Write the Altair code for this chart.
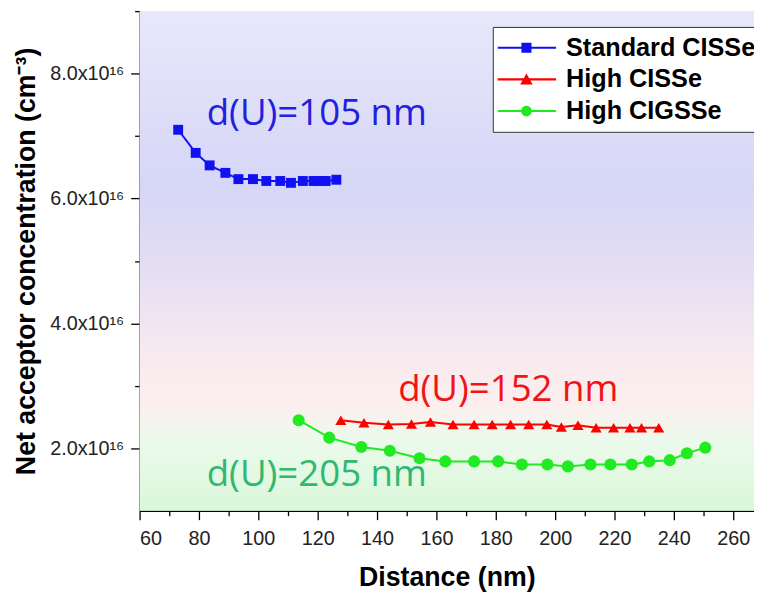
import altair as alt
import pandas as pd

# ---------------- data ----------------
series_names = ["Standard CISSe", "High CISSe", "High CIGSSe"]
series_colors = ["#1010f2", "#ff0000", "#22ea22"]

std_x = [73.0, 78.9, 83.6, 88.9, 93.3, 98.2, 102.7, 107.4, 111.0, 115.0, 118.6, 120.8, 122.7, 126.3]
std_y = [7.10, 6.73, 6.53, 6.41, 6.31, 6.31, 6.28, 6.28, 6.25, 6.28, 6.28, 6.28, 6.28, 6.30]

high_x = [127.8, 135.6, 143.8, 151.6, 158.0, 165.6, 172.7, 178.8, 185.0, 191.1,
          197.2, 202.1, 207.7, 213.8, 219.7, 225.2, 229.1, 234.9]
high_y = [2.45, 2.41, 2.38, 2.39, 2.42, 2.38, 2.38, 2.38, 2.38, 2.38,
          2.38, 2.34, 2.37, 2.33, 2.33, 2.33, 2.33, 2.33]

cigs_x = [113.6, 123.9, 134.7, 144.3, 154.3, 163.0, 172.7, 180.8, 188.8, 197.4,
          204.3, 211.9, 218.6, 225.8, 231.7, 238.6, 244.4, 250.6]
cigs_y = [2.45, 2.17, 2.02, 1.96, 1.84, 1.79, 1.79, 1.79, 1.74, 1.74,
          1.71, 1.74, 1.74, 1.74, 1.79, 1.81, 1.92, 2.01]

ann_text = ["d(U)=105 nm", "d(U)=152 nm", "d(U)=205 nm"]
ann_x = [119.7, 184.2, 119.7]
ann_y = [7.17, 2.76, 1.40]
ann_color = ["#2020e0", "#f01414", "#30b870"]

x_major = [60, 80, 100, 120, 140, 160, 180, 200, 220, 240, 260]
x_minor = [70, 90, 110, 130, 150, 170, 190, 210, 230, 250]
y_major = [2, 4, 6, 8]
y_minor = [3, 5, 7, 9]

# ---------------- tables ----------------
rows = []
for name, xs_, ys_ in zip(series_names, [std_x, high_x, cigs_x], [std_y, high_y, cigs_y]):
    for a, b in zip(xs_, ys_):
        rows.append({"series": name, "distance": a, "conc": b})
df = pd.DataFrame(rows)
ann = pd.DataFrame({"text": ann_text, "distance": ann_x, "conc": ann_y, "color": ann_color})

FONT = "Liberation Sans, Arial, sans-serif"
W, H = 621, 505

xs = alt.Scale(domain=[60, 267], nice=False, zero=False)
ys = alt.Scale(domain=[1, 9], nice=False, zero=False)
cscale = alt.Scale(domain=series_names, range=series_colors)

x_major_axis = alt.Axis(values=x_major, title="Distance (nm)", tickSize=9, labelPadding=9,
                        titlePadding=17, format="d", orient="bottom")
y_major_axis = alt.Axis(values=y_major, title="Net acceptor concentration (cm\u207b\u00b3)",
                        tickSize=9, labelPadding=7, titlePadding=9, orient="left",
                        labelExpr="format(datum.value, '.1f') + 'x10\u00b9\u2076'")
x_minor_axis = alt.Axis(values=x_minor, title=None, labels=False, domain=False, tickSize=5, orient="bottom")
y_minor_axis = alt.Axis(values=y_minor, title=None, labels=False, domain=False, tickSize=5, orient="left")

grad = alt.LinearGradient(
    gradient="linear", x1=0, x2=0, y1=0, y2=1,
    stops=[
        alt.GradientStop(offset=0.0, color="#e8e8fb"),
        alt.GradientStop(offset=0.35, color="#d6d6f7"),
        alt.GradientStop(offset=0.5, color="#e3ddf3"),
        alt.GradientStop(offset=0.68, color="#f7e9ef"),
        alt.GradientStop(offset=0.78, color="#fdeeee"),
        alt.GradientStop(offset=0.86, color="#ecfaec"),
        alt.GradientStop(offset=1.0, color="#d9f7d9"),
    ],
)

bg = alt.Chart(pd.DataFrame({"k": [0]})).mark_rect(color=grad).encode(
    x=alt.value(0), x2=alt.value(W), y=alt.value(0), y2=alt.value(H)
)

base = alt.Chart(df)

lines = base.mark_line(strokeWidth=2).encode(
    x=alt.X("distance:Q", scale=xs, axis=x_major_axis),
    y=alt.Y("conc:Q", scale=ys, axis=y_major_axis),
    color=alt.Color("series:N", scale=cscale, legend=None),
    detail="series:N",
)

minor = base.mark_point(opacity=0).encode(
    x=alt.X("distance:Q", scale=xs, axis=x_minor_axis),
    y=alt.Y("conc:Q", scale=ys, axis=y_minor_axis),
)

points = base.mark_point(filled=True, opacity=1).encode(
    x=alt.X("distance:Q", scale=xs, axis=None),
    y=alt.Y("conc:Q", scale=ys, axis=None),
    color=alt.Color("series:N", scale=cscale, legend=None),
    shape=alt.Shape("series:N", scale=alt.Scale(domain=series_names,
                                                range=["square", "triangle-up", "circle"]), legend=None),
    size=alt.Size("series:N", scale=alt.Scale(domain=series_names, range=[100, 150, 125]), legend=None),
)

texts = alt.Chart(ann).mark_text(font="Open Sans", fontSize=37, align="center", baseline="alphabetic").encode(
    x=alt.X("distance:Q", scale=xs, axis=None),
    y=alt.Y("conc:Q", scale=ys, axis=None),
    text="text:N",
    color=alt.Color("color:N", scale=None),
)

legend_paths = [
    "M-1,-0.035H1V0.035H-1Z M-0.17,-0.17H0.17V0.17H-0.17Z",
    "M-1,-0.035H1V0.035H-1Z M0,-0.2L0.21,0.17H-0.21Z",
    "M-1,-0.035H1V0.035H-1Z M0.18,0A0.18,0.18 0 1,1 -0.18,0A0.18,0.18 0 1,1 0.18,0Z",
]
leg = alt.Legend(title=None, orient="none", legendX=357, legendY=16, symbolSize=3600,
                 symbolStrokeWidth=0, clipHeight=32, rowPadding=0, padding=5,
                 labelOffset=10, symbolOffset=-1, labelFont=FONT, labelFontSize=25.5,
                 labelFontWeight="bold", labelColor="black", labelLimit=400,
                 strokeColor="#333333", fillColor="white")

legend_layer = base.transform_filter("false").mark_point(filled=True, opacity=1, size=3600).encode(
    color=alt.Color("series:N", scale=cscale, legend=leg),
    shape=alt.Shape("series:N", scale=alt.Scale(domain=series_names, range=legend_paths), legend=leg),
)

chart = alt.layer(bg, lines, minor, points, texts, legend_layer).resolve_scale(
    color="independent", shape="independent", size="independent"
).resolve_axis(x="independent", y="independent").properties(
    width=W, height=H,
    autosize=alt.AutoSizeParams(type="none"),
    padding={"left": 133, "top": 0, "right": 0, "bottom": 81},
    background="white",
).configure_view(stroke=None).configure_axis(
    domainColor="black", tickColor="black", domainWidth=1.3, tickWidth=1.3, grid=False,
    labelFont=FONT, labelFontSize=20, labelColor="#222222",
    titleFont=FONT, titleFontSize=27, titleFontWeight="bold", titleColor="black",
)

chart.save("out.html", embed_options={"renderer": "svg", "actions": False})
